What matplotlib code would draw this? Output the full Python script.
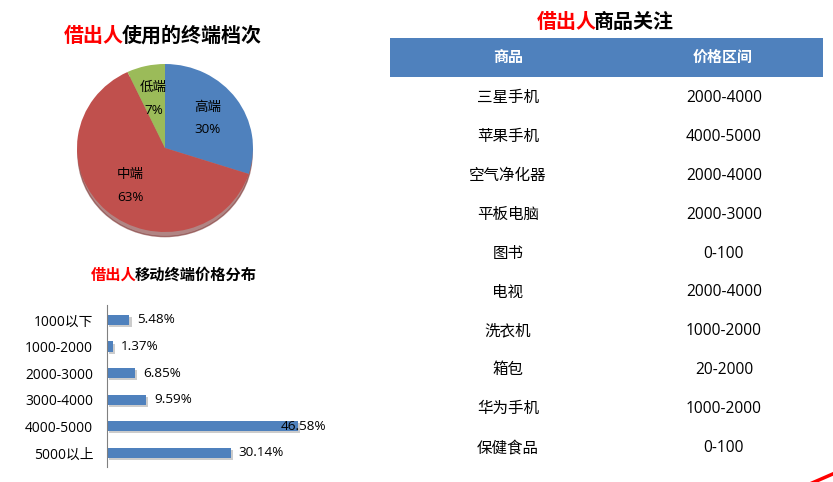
import matplotlib.pyplot as plt
import matplotlib.patheffects as pe
from matplotlib.patches import Ellipse, Rectangle
from matplotlib.lines import Line2D

FONTS = ['Open Sans', 'Noto Sans CJK SC', 'DejaVu Sans']
plt.rcParams['font.family'] = FONTS

# pie data
pie_names = ['高端', '中端', '低端']
pie_values = [30, 63, 7]
pie_colors = ['#4F81BD', '#C0504D', '#9BBB59']

# bar data
bar_cats = ['1000以下', '1000-2000', '2000-3000', '3000-4000', '4000-5000', '5000以上']
bar_values = [5.48, 1.37, 6.85, 9.59, 46.58, 30.14]

# table data
goods = ['三星手机', '苹果手机', '空气净化器', '平板电脑', '图书', '电视', '洗衣机', '箱包', '华为手机', '保健食品']
price_ranges = ['2000-4000', '4000-5000', '2000-4000', '2000-3000', '0-100',
                '2000-4000', '1000-2000', '20-2000', '1000-2000', '0-100']

W, H = 833, 482
fig = plt.figure(figsize=(W / 100, H / 100), dpi=100)


def px_axes(x0, y0, x1, y1):
    # axes from pixel box (top-left origin)
    return fig.add_axes([x0 / W, 1 - y1 / H, (x1 - x0) / W, (y1 - y0) / H])


# overlay for titles / table
ov = px_axes(0, 0, W, H)
ov.set_xlim(0, W)
ov.set_ylim(H, 0)
ov.axis('off')
ov.set_zorder(-1)

renderer = fig.canvas.get_renderer()


def two_tone(x, y, red, black, size):
    t1 = ov.text(x, y, red, color='#FF0000', fontsize=size, fontweight='bold',
                 ha='left', va='center', family='Noto Sans CJK SC')
    x1 = t1.get_window_extent(renderer).x1
    em = size * 100 / 72
    ov.text(x1 - 0.136 * em, y, black, color='black', fontsize=size, fontweight='bold',
            ha='left', va='center', family='Noto Sans CJK SC')


two_tone(64, 35, '借出人', '使用的终端档次', 14.4)
two_tone(537, 21, '借出人', '商品关注', 14.4)
two_tone(91, 275, '借出人', '移动终端价格分布', 11)

# ---- pie ----
axp = px_axes(77, 64, 253, 232)
axp.add_patch(Ellipse((0.0, -0.065), 1.98, 1.98, color='#7d3432', alpha=0.6,
                      zorder=0, clip_on=False))
labels = [f'{n}\n{v}%' for n, v in zip(pie_names, pie_values)]
wedges, texts = axp.pie(pie_values, colors=pie_colors, startangle=90, counterclock=False,
                        labels=labels, labeldistance=0.6, radius=1.0,
                        textprops=dict(fontsize=9.7, ha='center', va='center', linespacing=1.95),
                        wedgeprops=dict(linewidth=0))
for w in wedges:
    w.set_zorder(1)
axp.set_xlim(-1, 1)
axp.set_ylim(-1, 1)
axp.set_aspect('auto')
axp.axis('off')

# ---- bars ----
axb = px_axes(107, 305, 107 + 4.1 * 50, 467)
pos = list(range(len(bar_cats)))
axb.barh(pos, bar_values, height=0.38, color='#4F81BD',
         path_effects=[pe.SimplePatchShadow(offset=(1.5, -1.5), shadow_rgbFace='#9a9a9a', alpha=0.5),
                       pe.Normal()])
axb.set_xlim(0, 50)
axb.set_ylim(5.53, -0.56)
axb.set_yticks(pos)
axb.set_yticklabels(bar_cats, fontsize=9.9)
axb.tick_params(axis='y', length=0, pad=10)
axb.set_xticks([])
for s in ['top', 'right', 'bottom']:
    axb.spines[s].set_visible(False)
axb.spines['left'].set_color('#808080')
vmax = max(bar_values)
for p, v in zip(pos, bar_values):
    if v == vmax:
        axb.text(v - 4.3, p, f'{v:.2f}%', fontsize=9.7, va='center', ha='left')
    else:
        axb.text(v + 2, p, f'{v:.2f}%', fontsize=9.7, va='center', ha='left')

# ---- table ----
ov.add_patch(Rectangle((390, 38), 433, 39, color='#4F81BD', lw=0))
ov.text(508, 58, '商品', color='white', fontsize=10.8, fontweight='bold', ha='center', va='center')
ov.text(723, 58, '价格区间', color='white', fontsize=10.8, fontweight='bold', ha='center', va='center')
for i, (g, r) in enumerate(zip(goods, price_ranges)):
    y = 98 + i * 38.9
    ov.text(508, y, g, fontsize=11.2, ha='center', va='center')
    ov.text(724, y, r, fontsize=11.2, ha='center', va='center')

# corner decoration
fig.add_artist(Line2D([812 / W, 835 / W], [1 - 483 / H, 1 - 473 / H], color='red', lw=2.5,
                      transform=fig.transFigure))

fig.savefig('out.png', dpi=100)
